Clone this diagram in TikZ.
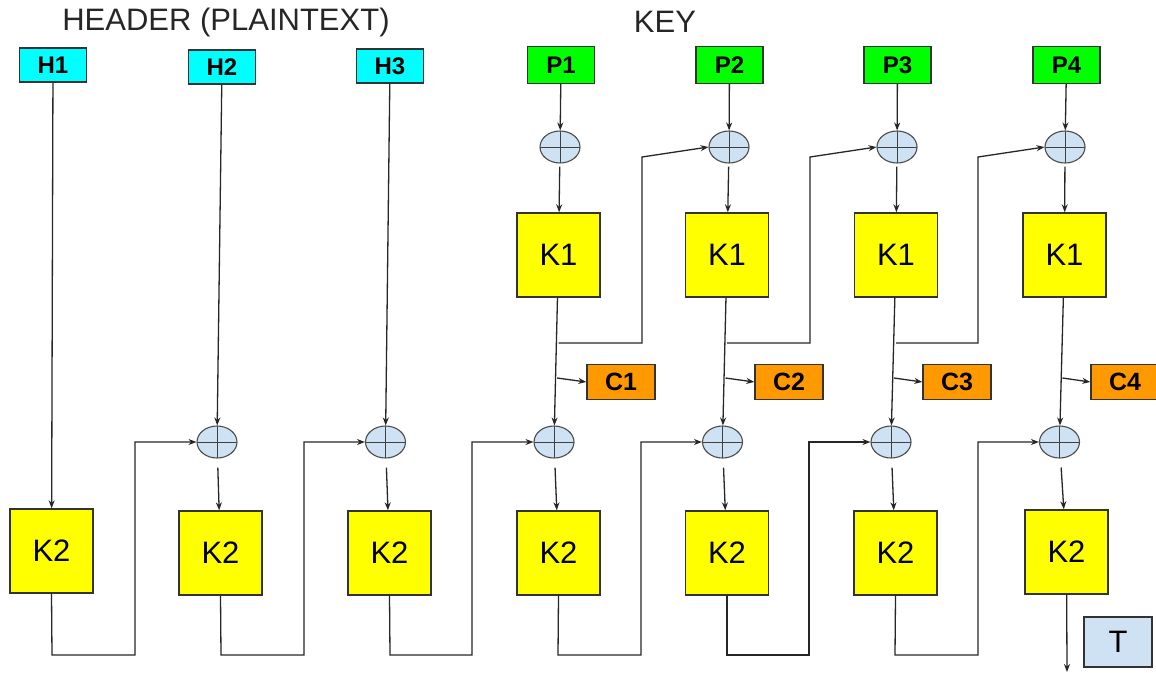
\documentclass[tikz,border=0pt]{standalone}
\usepackage{fontspec}
\setmainfont{Liberation Sans}
\usetikzlibrary{arrows.meta,shapes.geometric}
\definecolor{hcyan}{HTML}{00FFFF}
\definecolor{pgreen}{HTML}{00FF00}
\definecolor{kyellow}{HTML}{FFFF00}
\definecolor{corange}{HTML}{FF9900}
\definecolor{paleblue}{HTML}{CFE2F3}
\tikzset{
  boxline/.style={draw=black!80, line width=1.4pt, inner sep=0pt},
  hbox/.style={boxline, fill=hcyan, minimum width=67pt, minimum height=34pt,
    font=\bfseries\fontsize{24}{24}\selectfont},
  pbox/.style={hbox, fill=pgreen, minimum height=37pt},
  cbox/.style={boxline, fill=corange, minimum width=68pt, minimum height=35pt,
    font=\bfseries\fontsize{25}{25}\selectfont},
  kbox/.style={boxline, fill=kyellow, minimum width=83pt, minimum height=84pt,
    font=\fontsize{31}{31}\selectfont},
  tbox/.style={boxline, fill=paleblue, minimum width=68pt, minimum height=50pt,
    font=\fontsize{31}{31}\selectfont},
  xorgate/.style={ellipse, draw=black!70, fill=paleblue, line width=1.1pt,
    minimum width=40pt, minimum height=32pt, inner sep=0pt,
    path picture={\draw[black!75, line width=1pt]
      (path picture bounding box.north) -- (path picture bounding box.south)
      (path picture bounding box.west) -- (path picture bounding box.east);}},
  wire/.style={draw=black!85, line width=1.3pt},
  arr/.style={wire, -{Stealth[length=8pt,width=6pt]}},
  title/.style={text=black!85, font=\fontsize{31}{31}\selectfont},
}
\begin{document}
\begin{tikzpicture}[x=1pt,y=-1pt]
\useasboundingbox (0,0) rectangle (1156,672);
\clip (0,0) rectangle (1156,672);

% headings
\node[title] (hdr) at (226,22) {HEADER (PLAINTEXT)};
\node[title] (key) at (665,22) {KEY};

% header blocks
\node[hbox] (h1) at (53,65) {H1};
\node[hbox] (h2) at (222,67) {H2};
\node[hbox] (h3) at (390,66) {H3};

% key blocks
\foreach \i/\x in {1/561,2/729.5,3/897.5,4/1066.5}
  \node[pbox] (p\i) at (\x,65) {P\i};

% key xor gates, K1 and ciphertext blocks
\foreach \i/\x in {1/560,2/729,3/897,4/1065}
  \node[xorgate] (xt\i) at (\x,147) {};
\foreach \i/\x in {1/558.5,2/727,3/896,4/1064.5}
  \node[kbox] (ka\i) at (\x,255) {K1};
\foreach \i/\x in {1/621,2/789,3/957,4/1125}
  \node[cbox] (c\i) at (\x,382) {C\i};

% lower xor gates and K2 blocks
\foreach \i/\x in {1/217,2/385.5,3/554,4/722.5,5/891,6/1059.5}
  \node[xorgate] (xb\i) at (\x,442) {};
\foreach \i/\x/\y in {0/51.5/551,1/220.5/553,2/389.5/553,3/558.5/553,4/727/553,5/895.5/553,6/1066.5/552}
  \node[kbox] (kb\i) at (\x,\y) {K2};

\node[tbox] (t) at (1118,642) {T};

% header inputs
\draw[arr] (h1) -- (kb0);
\draw[arr] (h2) -- (xb1);
\draw[arr] (h3) -- (xb2);

% key path: P -> xor -> K1 -> xor, with ciphertext taps
\foreach \i/\j in {1/3,2/4,3/5,4/6} {
  \draw[arr] (p\i) -- (xt\i);
  \draw[arr, shorten <=3pt] (xt\i) -- (ka\i);
  \draw[arr] (ka\i) -- (xb\j);
}
\foreach \i/\x in {1/557,2/725.5,3/894,4/1062.5} {
  \coordinate (tap\i) at (\x,378);
  \draw[arr] (tap\i) -- (c\i.west);
}

% chaining of K1 outputs into the next key xor
\foreach \i/\n/\x/\r in {1/2/558.5/642,2/3/727/810,3/4/896/978} {
  \coordinate (fa\i) at (\x,343);
  \coordinate (fb\i) at (\r,157);
  \draw[arr] (fa\i) -| (fb\i) -- (xt\n.west);
}

% chaining of K2 outputs into the next lower xor
\foreach \i/\n/\x/\r in {0/1/52/135,1/2/221/304,2/3/390/472,3/4/558/641,4/5/727/809,5/6/895/978} {
  \coordinate (ga\i) at (\x,655);
  \coordinate (gb\i) at (\r,655);
  \draw[arr] (kb\i.south) -- (ga\i) -- (gb\i) |- (xb\n.west);
}

% xor -> K2
\foreach \i in {1,...,6}
  \draw[arr, shorten <=9pt] (xb\i) -- (kb\i);

% tag output
\coordinate (tout) at (1067,672);
\draw[arr] (kb6) -- (tout);
\end{tikzpicture}
\end{document}
